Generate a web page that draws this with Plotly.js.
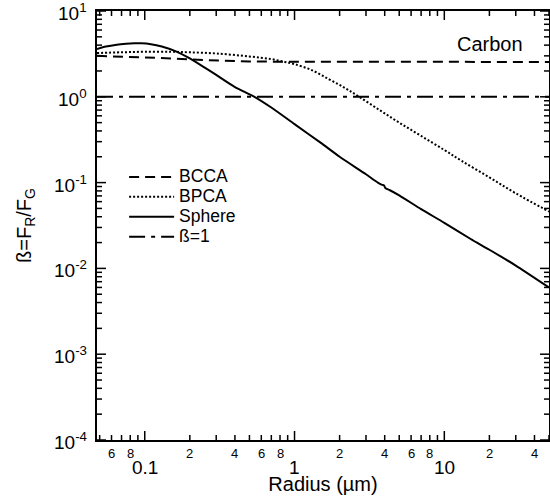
<!DOCTYPE html>
<html>
<head>
<meta charset="utf-8">
<script src="https://cdn.plot.ly/plotly-3.0.1.min.js"></script>
<style>
  html, body { margin: 0; padding: 0; background: #fff; }
  #chart { width: 550px; height: 502px; }
</style>
</head>
<body>
<div id="chart"></div>
<script>
// Radiation-pressure-to-gravity ratio for carbon grains
const radiusBCCA = [0.048, 0.07, 0.1, 0.15, 0.2, 0.3, 0.5, 1, 2, 5, 10, 20, 50];
const betaBCCA   = [3.0, 2.95, 2.88, 2.8, 2.72, 2.64, 2.58, 2.56, 2.55, 2.55, 2.55, 2.55, 2.55];

const radiusBPCA = [0.048, 0.07, 0.1, 0.15, 0.2, 0.3, 0.5, 0.7, 0.86, 1.0, 1.3, 1.7, 2.2, 2.7, 3.7, 5, 7, 10, 13, 20, 30, 50];
const betaBPCA   = [3.24, 3.3, 3.35, 3.35, 3.3, 3.2, 2.95, 2.75, 2.55, 2.4, 2.05, 1.6, 1.25, 1.0, 0.7, 0.5, 0.35, 0.24, 0.18, 0.115, 0.075, 0.046];

const radiusSphere = [0.048, 0.055, 0.065, 0.075, 0.085, 0.095, 0.11, 0.13, 0.16, 0.2, 0.25, 0.3, 0.4, 0.54, 0.7, 1.0, 1.5, 2, 3, 3.6, 3.85, 3.95, 4.05, 4.3, 5, 7, 10, 15, 20, 30, 50];
const betaSphere   = [3.6, 3.85, 4.05, 4.15, 4.2, 4.2, 4.1, 3.85, 3.4, 2.8, 2.2, 1.8, 1.3, 1.0, 0.75, 0.48, 0.29, 0.2, 0.125, 0.1, 0.094, 0.093, 0.086, 0.082, 0.071, 0.049, 0.034, 0.022, 0.0165, 0.0108, 0.0060];

const radiusUnity = [0.048, 50];
const betaUnity   = [1, 1];

// Axis ranges, major ticks and labels
const xRange = [0.048, 50];
const xMajorTicks  = [0.1, 1, 10];
const xMajorLabels = ['0.1', '1', '10'];
const xDigitLabelled = [0.06, 0.08, 0.2, 0.4, 0.6, 0.8, 2, 4, 6, 8, 20, 40];
const xDigitLabels   = ['6', '8', '2', '4', '6', '8', '2', '4', '6', '8', '2', '4'];
const yRange = [1e-4, 10];
const yMajorTicks  = [1e-4, 1e-3, 1e-2, 1e-1, 1, 10];
const yMajorLabels = ['10<sup>-4</sup>', '10<sup>-3</sup>', '10<sup>-2</sup>', '10<sup>-1</sup>', '10<sup>0</sup>', '10<sup>1</sup>'];

const W = 550, H = 502;
const M = { l: 97, r: 1, t: 11, b: 62 };

// minor ticks at 2..9 of every decade inside an axis range
function minorTicks(lo, hi) {
  const out = [];
  for (let e = Math.floor(Math.log10(lo)); e <= Math.ceil(Math.log10(hi)); e++) {
    for (let d = 2; d <= 9; d++) {
      const v = d * Math.pow(10, e);
      if (v >= lo * 0.999 && v <= hi * 1.001) out.push(v);
    }
  }
  return out;
}

// inward tick marks on all four sides, as line segments in data space
const MAJOR_LEN = 9, MINOR_LEN = 5;
const xPxPerDecade = (W - M.l - M.r) / (Math.log10(xRange[1]) - Math.log10(xRange[0]));
const yPxPerDecade = (H - M.t - M.b) / (Math.log10(yRange[1]) - Math.log10(yRange[0]));
function tickSegments() {
  const xs = [], ys = [];
  const addX = (v, len) => {
    const f = Math.pow(10, len / yPxPerDecade);
    xs.push(v, v, null, v, v, null);
    ys.push(yRange[0], yRange[0] * f, null, yRange[1], yRange[1] / f, null);
  };
  const addY = (v, len) => {
    const f = Math.pow(10, len / xPxPerDecade);
    ys.push(v, v, null, v, v, null);
    xs.push(xRange[0], xRange[0] * f, null, xRange[1], xRange[1] / f, null);
  };
  minorTicks(xRange[0], xRange[1]).forEach(v => addX(v, MINOR_LEN));
  xMajorTicks.forEach(v => addX(v, MAJOR_LEN));
  minorTicks(yRange[0], yRange[1]).forEach(v => addY(v, MINOR_LEN));
  yMajorTicks.forEach(v => addY(v, MAJOR_LEN));
  return { xs, ys };
}
const ticks = tickSegments();

const FONT = 'Liberation Sans, Arial, Helvetica, sans-serif';
const lineBase = { color: 'black', width: 2 };
const legendName = s => '<span style="font-size:17.5px">' + s + '</span>';

const traces = [
  { x: radiusBCCA, y: betaBCCA, name: legendName('BCCA'), mode: 'lines',
    line: Object.assign({}, lineBase, { dash: '10px,6px' }) },
  { x: radiusBPCA, y: betaBPCA, name: legendName('BPCA'), mode: 'lines',
    line: Object.assign({}, lineBase, { dash: '2px,2px', shape: 'spline' }) },
  { x: radiusSphere, y: betaSphere, name: legendName('Sphere'), mode: 'lines',
    line: Object.assign({}, lineBase, { shape: 'spline', smoothing: 0.6 }) },
  { x: radiusUnity, y: betaUnity, name: legendName('ß=1'), mode: 'lines',
    line: Object.assign({}, lineBase, { dash: '16px,6px,4px,6px' }) },
  { x: ticks.xs, y: ticks.ys, mode: 'lines', showlegend: false, connectgaps: false,
    cliponaxis: false, line: { color: 'black', width: 1.5 } }
];
traces.forEach(t => { t.hoverinfo = 'skip'; });

// tick labels
const labels = [];
xDigitLabelled.forEach((v, i) => labels.push({
  text: xDigitLabels[i], xref: 'x', x: Math.log10(v), yref: 'paper', y: 0,
  xanchor: 'center', yanchor: 'top', yshift: -4, showarrow: false, font: { size: 13 }
}));
xMajorTicks.forEach((v, i) => labels.push({
  text: xMajorLabels[i], xref: 'x', x: Math.log10(v), yref: 'paper', y: 0,
  xanchor: 'center', yanchor: 'top', yshift: -15, showarrow: false, font: { size: 19 }
}));
yMajorTicks.forEach((v, i) => labels.push({
  text: yMajorLabels[i], xref: 'paper', x: 0, yref: 'y', y: Math.log10(v),
  xanchor: 'right', yanchor: 'middle', xshift: -8, yshift: -1, showarrow: false, font: { size: 19 }
}));
labels.push({ text: 'Carbon', xref: 'paper', yref: 'paper', x: 0.947, y: 0.923,
  xanchor: 'right', yanchor: 'middle', showarrow: false, font: { size: 20 } });

const frame = {
  showline: true, linewidth: 2, linecolor: 'black', mirror: true,
  showgrid: false, zeroline: false, showticklabels: false, ticks: ''
};

const layout = {
  width: W, height: H,
  margin: M,
  paper_bgcolor: 'white', plot_bgcolor: 'white',
  font: { family: FONT, color: 'black' },
  showlegend: true,
  legend: {
    x: 0.06, y: 0.648, xanchor: 'left', yanchor: 'top',
    bgcolor: 'rgba(0,0,0,0)', font: { size: 13, family: FONT },
    itemwidth: 45
  },
  xaxis: Object.assign({
    type: 'log', range: xRange.map(Math.log10),
    title: { text: 'Radius (µm)', font: { size: 20 }, standoff: 36 }
  }, frame),
  yaxis: Object.assign({
    type: 'log', range: yRange.map(Math.log10),
    title: { text: 'ß=F<sub>R</sub>/F<sub>G</sub>', font: { size: 20 }, standoff: 58 }
  }, frame),
  annotations: labels
};

Plotly.newPlot('chart', traces, layout, { displayModeBar: false, staticPlot: true });
</script>
</body>
</html>
